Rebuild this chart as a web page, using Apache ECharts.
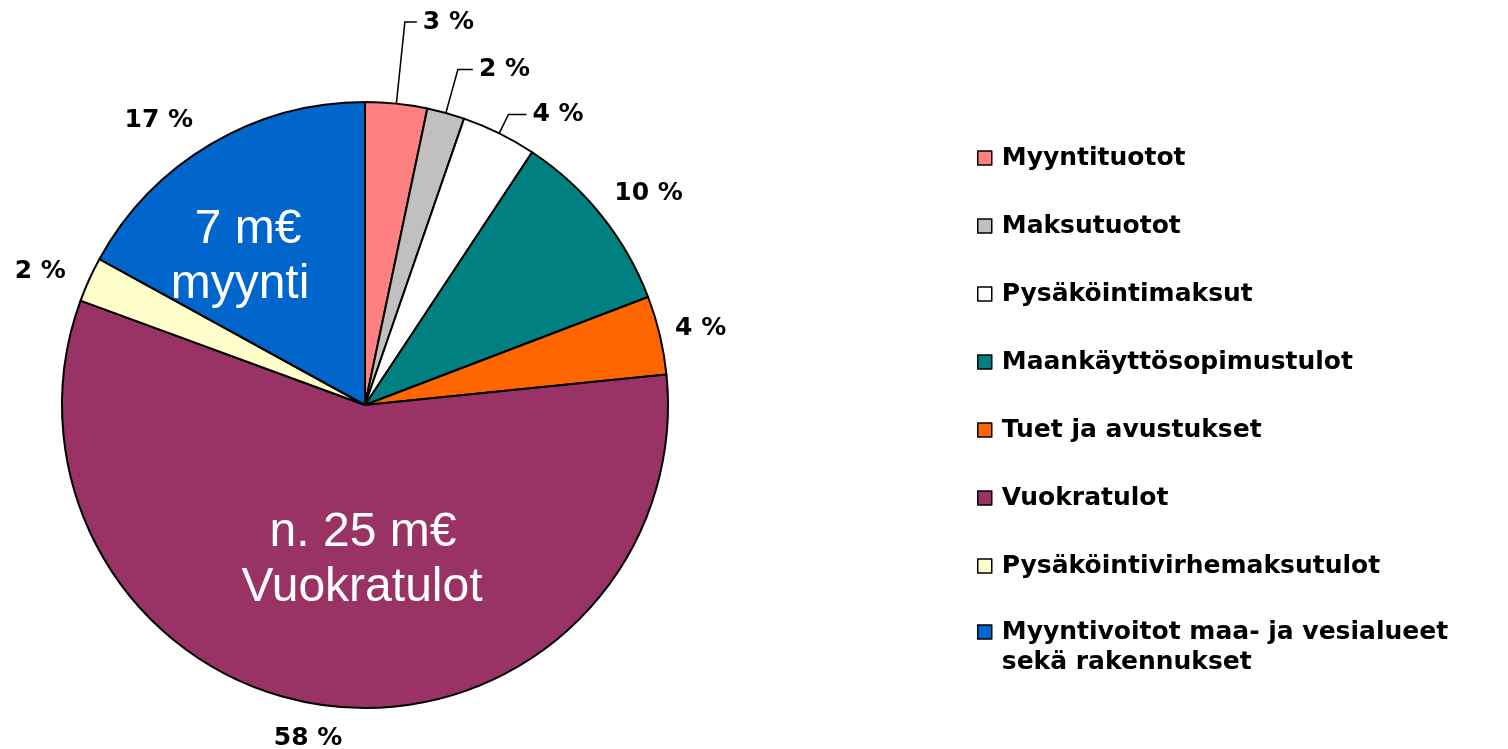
<!DOCTYPE html>
<html>
<head>
<meta charset="utf-8">
<script src="https://cdn.jsdelivr.net/npm/echarts@6/dist/echarts.min.js"></script>
<style>
html,body{margin:0;padding:0;background:#fff;}
#c{width:1508px;height:749px;}
</style>
</head>
<body>
<div id="c"></div>
<script>
// ---- data ----
const categories = [
  'Myyntituotot',
  'Maksutuotot',
  'Pysäköintimaksut',
  'Maankäyttösopimustulot',
  'Tuet ja avustukset',
  'Vuokratulot',
  'Pysäköintivirhemaksutulot',
  'Myyntivoitot maa- ja vesialueet sekä rakennukset'
];
const shares = [3.3, 2.0, 4.0, 9.9, 4.2, 57.2, 2.4, 17.0];
const percentLabels = ['3 %', '2 %', '4 %', '10 %', '4 %', '58 %', '2 %', '17 %'];
const innerNotes = [['7 m€', 'myynti'], ['n. 25 m€', 'Vuokratulot']];

// ---- styles / layout ----
const colors = ['#FF8080', '#C0C0C0', '#FFFFFF', '#008080', '#FF6600', '#993366', '#FFFFCC', '#0066CC'];
const leaderShown = [true, true, true, false, false, false, false, false];
const leaderLen = [82, 45, 21, 45, 45, 32, 45, 45];
const leaderLen2 = [12, 15, 18, 0, 0, 0, 0, 0];
const labelNudge = [[0, 0], [0, 0], [0, 0], [6, 6], [-9, 4], [-9, 1], [-2, 11], [-23, 15]];

const boldFont = 'DejaVu Sans';
const noteFont = '48px "Liberation Sans", Arial, sans-serif';

const seriesData = categories.map((name, i) => ({
  name: name,
  value: shares[i],
  itemStyle: { color: colors[i] },
  labelLine: { show: leaderShown[i], length: leaderLen[i], length2: leaderLen2[i] }
}));

const legendText = {
  fontFamily: boldFont,
  fontWeight: 'bold',
  fontSize: 25,
  color: '#000',
  lineHeight: 30,
  rich: { t: { fontFamily: boldFont, fontWeight: 'bold', fontSize: 25, color: '#000', lineHeight: 30, padding: [0, 0, 0, 5] } }
};
const legendBase = {
  orient: 'vertical',
  left: 977,
  padding: 0,
  itemWidth: 14,
  itemHeight: 14,
  itemGap: 38,
  icon: 'rect',
  selectedMode: false,
  itemStyle: { borderColor: '#000', borderWidth: 1.5 },
  textStyle: legendText
};
const lastName = categories[categories.length - 1];

const chart = echarts.init(document.getElementById('c'), null, { renderer: 'canvas' });

const option = {
  backgroundColor: '#ffffff',
  animation: false,
  legend: [
    Object.assign({}, legendBase, {
      top: 143,
      data: categories.slice(0, categories.length - 1),
      formatter: function (name) { return '{t|' + name + '}'; }
    }),
    Object.assign({}, legendBase, {
      top: 632 - 45,
      data: [lastName],
      formatter: function (name) {
        const parts = name.split(' sekä');
        return '{t| }\n{t|' + parts[0] + '}\n{t|sekä' + parts[1] + '}';
      }
    })
  ],
  series: [{
    type: 'pie',
    center: [365, 405],
    radius: 303,
    startAngle: 90,
    clockwise: true,
    avoidLabelOverlap: false,
    itemStyle: { borderColor: '#000', borderWidth: 2 },
    emphasis: { disabled: true },
    label: {
      show: true,
      position: 'outside',
      formatter: function (p) { return percentLabels[p.dataIndex]; },
      fontFamily: boldFont,
      fontWeight: 'bold',
      fontSize: 25,
      color: '#000',
      distanceToLabelLine: 6
    },
    labelLine: {
      lineStyle: { color: '#000', width: 1.5 },
      smooth: false
    },
    labelLayout: function (p) {
      const n = labelNudge[p.dataIndex];
      if (!leaderShown[p.dataIndex]) {
        return { align: 'center', dx: n[0], dy: n[1] };
      }
      return {};
    },
    data: seriesData
  }],
  graphic: [
    { type: 'text', z: 100, x: 248, y: 230, style: { text: innerNotes[0][0], fill: '#fff', font: noteFont, textAlign: 'center', textVerticalAlign: 'middle' } },
    { type: 'text', z: 100, x: 240, y: 285, style: { text: innerNotes[0][1], fill: '#fff', font: noteFont, textAlign: 'center', textVerticalAlign: 'middle' } },
    { type: 'text', z: 100, x: 363, y: 533, style: { text: innerNotes[1][0], fill: '#fff', font: noteFont, textAlign: 'center', textVerticalAlign: 'middle' } },
    { type: 'text', z: 100, x: 362, y: 588, style: { text: innerNotes[1][1], fill: '#fff', font: noteFont, textAlign: 'center', textVerticalAlign: 'middle' } }
  ]
};

chart.setOption(option);
</script>
</body>
</html>
